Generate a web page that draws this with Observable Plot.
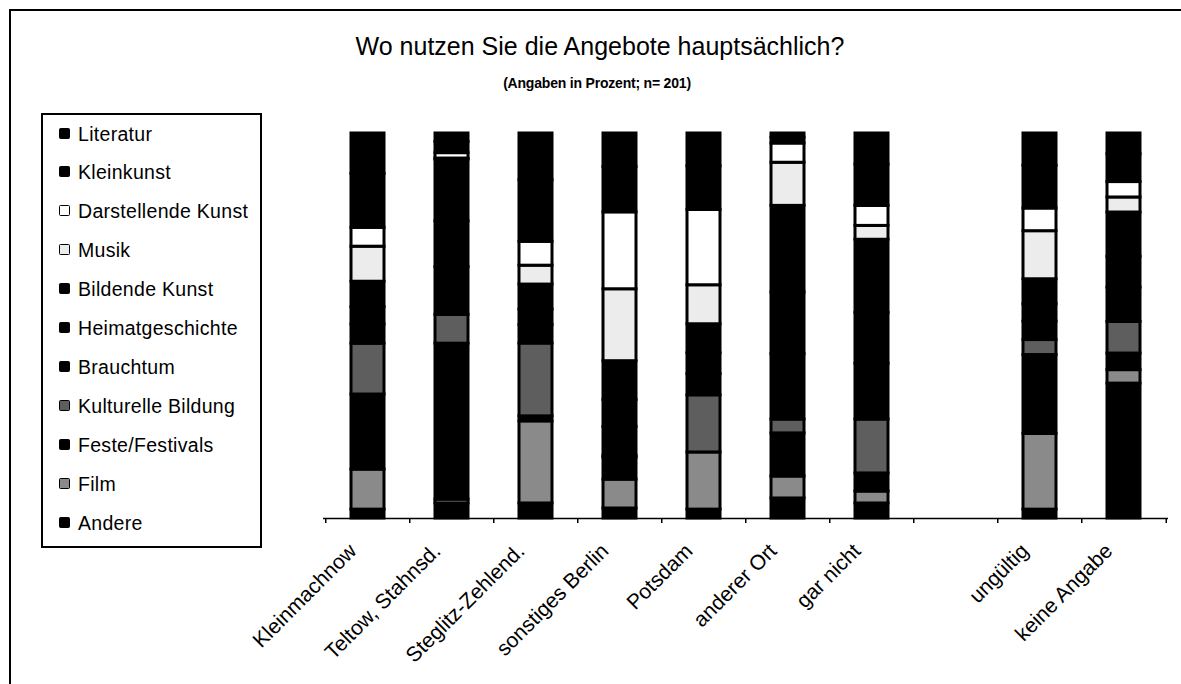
<!DOCTYPE html>
<html><head><meta charset="utf-8">
<script src="https://cdn.jsdelivr.net/npm/d3@7"></script>
<script src="https://cdn.jsdelivr.net/npm/@observablehq/plot@0.6"></script>
<style>
body{margin:0;background:#fff;font-family:"Liberation Sans",Arial,sans-serif;overflow:hidden}
#page{position:relative;width:1181px;height:684px;overflow:hidden;background:#fff}
#frame{position:absolute;left:9px;top:9px;width:1300px;height:800px;border:2px solid #000;pointer-events:none}
#title{position:absolute;left:0;width:1200px;top:31px;line-height:30px;text-align:center;font-size:25px;color:#000}
#subtitle{position:absolute;left:0;width:1194px;top:75px;line-height:16px;text-align:center;font-size:14px;font-weight:bold;letter-spacing:-0.2px;color:#000}
#chart{position:absolute;left:0;top:0}
#legend{position:absolute;left:41px;top:113px;width:217px;height:431px;border:2px solid #000;background:#fff}
.li{position:absolute;left:0;height:24px;line-height:24px;font-size:19.5px;letter-spacing:0.3px;white-space:nowrap}
.sw{position:absolute;left:16px;top:6px;width:9px;height:9px;border:1.5px solid #000;border-radius:1.5px}
.lt{position:absolute;left:35px;top:0}
</style>
</head><body>
<div id="page">
  <div id="chart"></div>
  <div id="frame"></div>
  <div id="title">Wo nutzen Sie die Angebote hauptsächlich?</div>
  <div id="subtitle">(Angaben in Prozent; n= 201)</div>
  <div id="legend"></div>
</div>
<script>
// Categories (x axis); one empty slot between "gar nicht" and "ungültig"
const categories = ["Kleinmachnow","Teltow, Stahnsd.","Steglitz-Zehlend.","sonstiges Berlin","Potsdam","anderer Ort","gar nicht"," ","ungültig","keine Angabe"];

// Series, bottom of stack first
const seriesNames = ["Andere","Film","Feste/Festivals","Kulturelle Bildung","Brauchtum","Heimatgeschichte","Bildende Kunst","Musik","Darstellende Kunst","Kleinkunst","Literatur"];
const seriesFills = ["#000","#8a8a8a","#000","#5e5e5e","#000","#000","#000","#ececec","#fff","#000","#000"];

// Values in percent, per category (same order as categories)
const andere       = [2.3, 3.9, 3.9, 2.6, 2.3, 5.2, 3.9, 0, 2.3, 35.0];
const film         = [10.4, 1.0, 21.3, 7.5, 14.8, 5.7, 3.1, 0, 19.7, 3.5];
const feste        = [19.5, 40.5, 1.3, 5.7, 0, 11.2, 4.7, 0, 20.5, 4.3];
const kultBildung  = [13.2, 7.5, 18.9, 0.5, 14.8, 3.6, 14.0, 0, 3.9, 8.2];
const brauchtum    = [5.0, 12.4, 4.8, 7.5, 5.5, 17.0, 14.5, 0, 4.8, 8.9];
const heimat       = [4.5, 11.9, 4.0, 7.0, 5.4, 16.0, 13.2, 0, 4.5, 8.0];
const bildende     = [6.6, 16.0, 6.5, 10.1, 7.5, 22.5, 19.0, 0, 6.5, 11.5];
const musik        = [9.1, 0.3, 4.9, 18.7, 10.1, 11.2, 3.6, 0, 12.5, 3.9];
const darstellende = [4.9, 1.4, 6.2, 20.0, 19.5, 5.0, 5.2, 0, 5.9, 4.0];
const kleinkunst   = [14.0, 2.9, 16.0, 11.8, 11.3, 1.5, 10.7, 0, 11.1, 7.2];
const literatur    = [10.5, 2.2, 12.1, 8.7, 8.5, 1.1, 8.1, 0, 8.4, 5.4];

const seriesValues = [andere, film, feste, kultBildung, brauchtum, heimat, bildende, musik, darstellende, kleinkunst, literatur];

const rows = [];
seriesNames.forEach((s, si) => {
  categories.forEach((c, ci) => {
    const v = seriesValues[si][ci];
    if (v > 0) rows.push({cat: c, series: s, value: v});
  });
});

const W = 1181, H = 684;
const mL = 323, mR = 13, mT = 133, mB = 166;
const step = (W - mL - mR) / categories.length;

const chart = Plot.plot({
  width: W, height: H,
  marginLeft: mL, marginRight: mR, marginTop: mT, marginBottom: mB,
  style: {fontFamily: '"Liberation Sans", Arial, sans-serif', background: "transparent", overflow: "visible"},
  x: {domain: categories, paddingInner: 0.61, paddingOuter: 0.305, label: null},
  y: {domain: [0, 1], axis: null},
  color: {domain: seriesNames, range: seriesFills},
  marks: [
    Plot.barY(rows, Plot.stackY({offset: "normalize", order: null}, {
      x: "cat", y: "value", z: "series", fill: "series",
      stroke: "#000", strokeWidth: 3
    })),
    Plot.ruleY([0], {stroke: "#000", strokeWidth: 1.5}),
    Plot.axisX({tickSize: 5, text: null, dx: -step / 2, stroke: "#000", strokeWidth: 1.5, strokeOpacity: 1}),
    Plot.axisX({ticks: [categories[categories.length - 1]], tickSize: 5, text: null, dx: step / 2, stroke: "#000", strokeWidth: 1.5, strokeOpacity: 1}),
    Plot.axisX({tickSize: 0, tickPadding: 8, tickRotate: -45, fontSize: 21, fill: "#000", label: null, dx: -15, dy: 21})
  ]
});
document.getElementById("chart").appendChild(chart);

// Legend, top to bottom = top of stack first
const legend = document.getElementById("legend");
const legendOrder = seriesNames.map((n, i) => i).reverse();
legendOrder.forEach((si, k) => {
  const item = document.createElement("div");
  item.className = "li";
  item.style.top = (6.5 + k * 38.9) + "px";
  const sw = document.createElement("div");
  sw.className = "sw";
  sw.style.background = seriesFills[si];
  const t = document.createElement("div");
  t.className = "lt";
  t.textContent = seriesNames[si];
  item.appendChild(sw); item.appendChild(t);
  legend.appendChild(item);
});
</script>
</body></html>
